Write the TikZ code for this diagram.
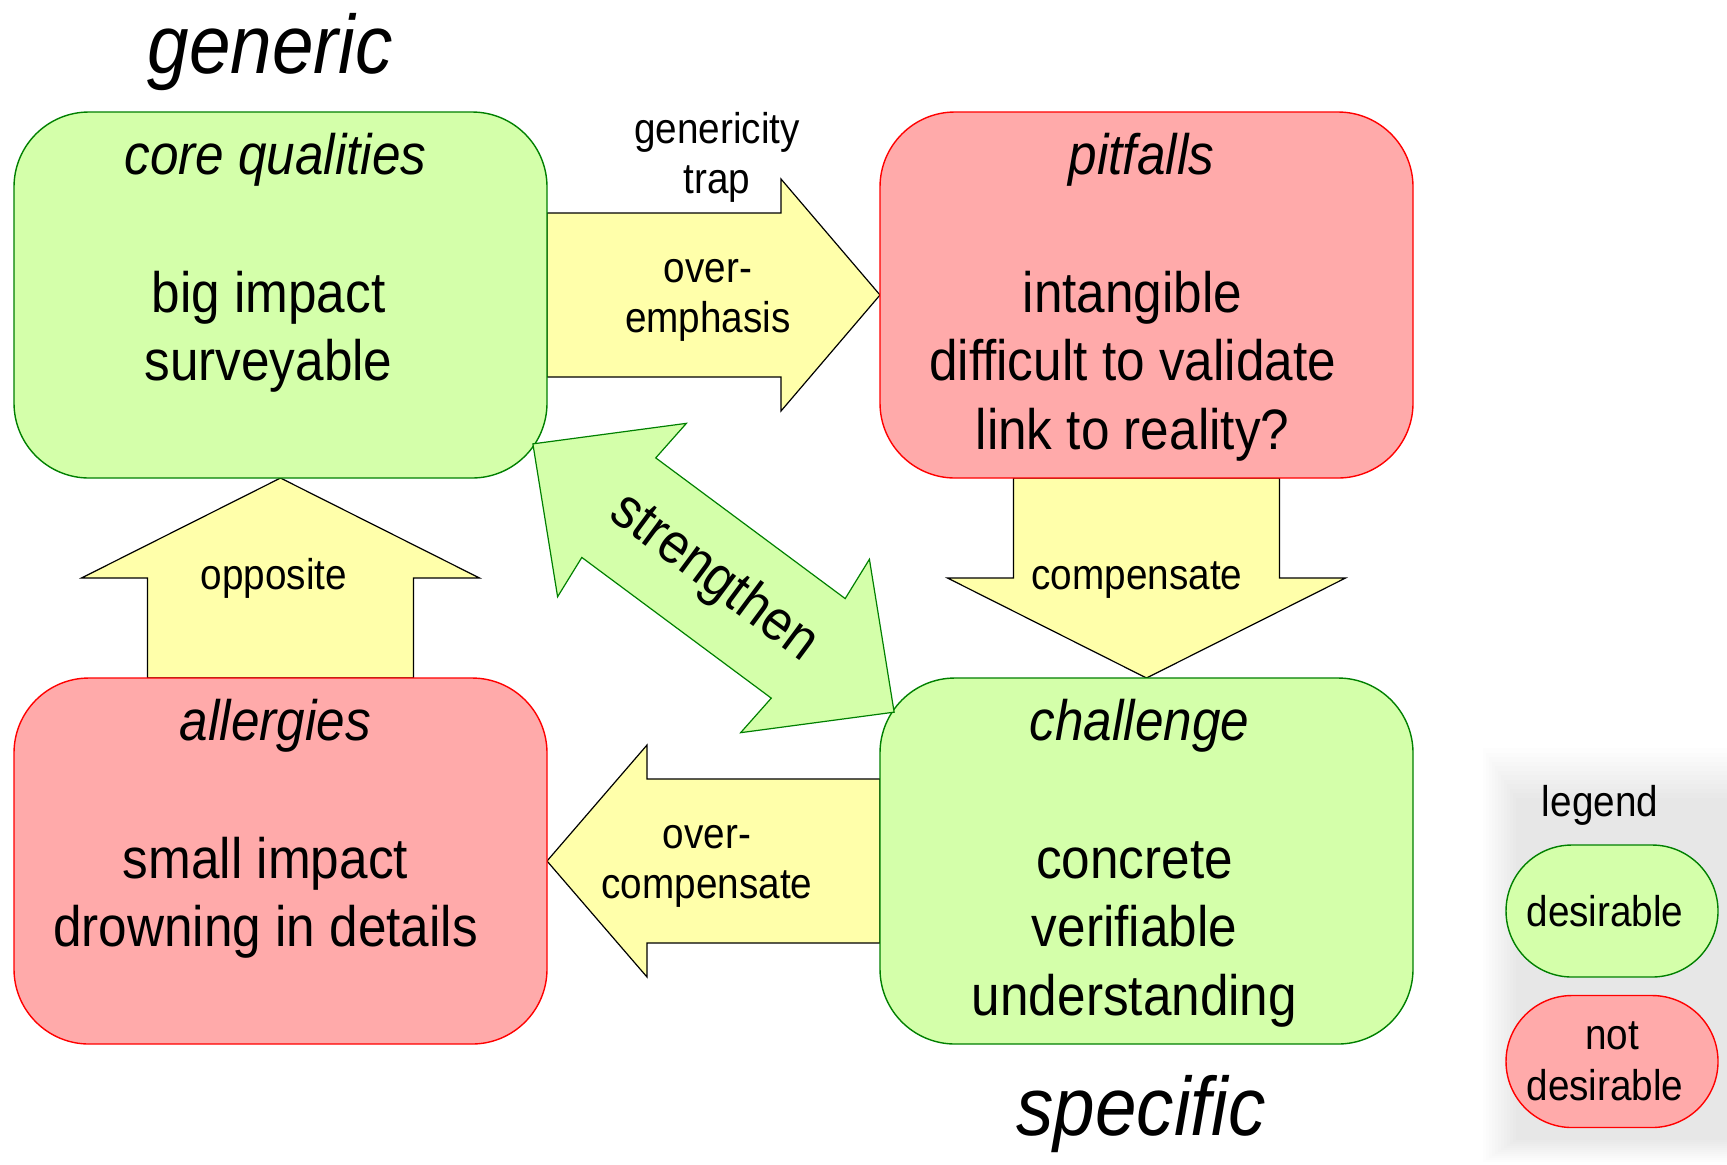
\documentclass[tikz,border=0pt]{standalone}
\usepackage{fontspec}
\setmainfont{Liberation Sans}[FakeStretch=0.9]
\usetikzlibrary{calc,backgrounds}

% text sizes (1 unit = 0.5pt)
\newcommand{\boxsize}{\fontsize{28.5}{34.25}\selectfont}
\newcommand{\tagsize}{\fontsize{21.5}{25.25}\selectfont}
\newcommand{\headsize}{\fontsize{41.5}{50}\selectfont}

\tikzset{
  goodbox/.style={draw={rgb, 255:red, 0; green, 128; blue, 0}, fill={rgb, 255:red, 212; green, 255; blue, 170},
    line width=0.7pt, rounded corners=37.5pt, minimum width=266.5pt, minimum height=183pt,
    inner sep=0pt, outer sep=0pt},
  badbox/.style={goodbox, draw=red, fill={rgb, 255:red, 255; green, 170; blue, 170}},
  goodleg/.style={goodbox, minimum width=106pt, minimum height=66pt, rounded corners=33pt,
    font=\tagsize, align=center},
  badleg/.style={goodleg, draw=red, fill={rgb, 255:red, 255; green, 170; blue, 170}},
  ttl/.style={font=\boxsize\itshape, inner sep=0pt, anchor=base},
  body/.style={font=\boxsize, align=center, inner sep=0pt, anchor=north},
  tag/.style={font=\tagsize, align=center, inner sep=0pt},
  yarrow/.style={draw=black, fill={rgb, 255:red, 255; green, 255; blue, 170}, line width=0.6pt},
  garrow/.style={draw={rgb, 255:red, 0; green, 128; blue, 0}, fill={rgb, 255:red, 212; green, 255; blue, 170}, line width=0.6pt},
}

\begin{document}
\begin{tikzpicture}[x=0.5pt,y=0.5pt,yscale=-1,xscale=1]
\useasboundingbox (0,0) rectangle (1727,1164);

%Shape: Rounded Rects
\node [goodbox] (core) at (280.5,295) {};
\node [badbox] (pit) at (1146.5,295) {};
\node [badbox] (allerg) at (280.5,861) {};
\node [goodbox] (chal) at (1146.5,861) {};

\begin{scope}[on background layer]
%Shape: legend shadow
\foreach \i in {0,...,11}
  \fill [black, opacity=0.009] (1483+3*\i,748+4.5*\i) rectangle (1727,1162-2*\i);

%Shape: Right Arrow [over-emphasis]
\draw [yarrow] ($(core.east)+(0,-82)$) -- ($(pit.west)+(-99,-82)$) -- ($(pit.west)+(-99,-116)$) -- (pit.west)
  -- ($(pit.west)+(-99,116)$) -- ($(pit.west)+(-99,82)$) -- ($(core.east)+(0,82)$) -- cycle;
%Shape: Down Arrow [compensate]
\draw [yarrow] ($(pit.south)+(-133,0)$) -- ($(chal.north)+(-133,-100)$) -- ($(chal.north)+(-199,-100)$) -- (chal.north)
  -- ($(chal.north)+(199,-100)$) -- ($(chal.north)+(133,-100)$) -- ($(pit.south)+(133,0)$) -- cycle;
%Shape: Up Arrow [opposite]
\draw [yarrow] ($(allerg.north)+(-133,0)$) -- ($(core.south)+(-133,100)$) -- ($(core.south)+(-199,100)$) -- (core.south)
  -- ($(core.south)+(199,100)$) -- ($(core.south)+(133,100)$) -- ($(allerg.north)+(133,0)$) -- cycle;
%Shape: Left Arrow [over-compensate]
\draw [yarrow] ($(chal.west)+(0,-82)$) -- ($(allerg.east)+(100,-82)$) -- ($(allerg.east)+(100,-116)$) -- (allerg.east)
  -- ($(allerg.east)+(100,116)$) -- ($(allerg.east)+(100,82)$) -- ($(chal.west)+(0,82)$) -- cycle;
\end{scope}

%Shape: Double Arrow [strengthen]
\coordinate (mid) at ($(core.south east)!0.5!(chal.north west)$);
\begin{scope}[shift={(mid)}, rotate=36.6]
\draw [garrow] (-225,0) -- (-114,-108) -- (-118,-62) -- (118,-62) -- (114,-108) -- (225,0)
  -- (114,108) -- (118,62) -- (-118,62) -- (-114,108) -- cycle;
\end{scope}
\node [font=\boxsize, rotate=-36.6, inner sep=0pt] (streng) at (mid) {strengthen};

% Text Node
\node [font=\headsize\itshape, inner sep=0pt, anchor=base] (gen) at (270,73) {generic};
% Text Node
\node [font=\headsize\itshape, inner sep=0pt, anchor=base] (spec) at (1141,1135) {specific};

% Text Node
\node [ttl] (coreT) at ($(core.north)+(-5,62)$) {core qualities};
\node [body] (coreB) at ($(core.north)+(-12,152)$) {\strut big impact\\surveyable};
% Text Node
\node [ttl] (pitT) at ($(pit.north)+(-5,62)$) {pitfalls};
\node [body] (pitB) at ($(pit.north)+(-14,152)$) {\strut intangible\\difficult to validate\\link to reality?};
% Text Node
\node [ttl] (allergT) at ($(allerg.north)+(-5,62)$) {allergies};
\node [body] (allergB) at ($(allerg.north)+(-15,152)$) {\strut small impact\\drowning in details};
% Text Node
\node [ttl] (chalT) at ($(chal.north)+(-7,62)$) {challenge};
\node [body] (chalB) at ($(chal.north)+(-12,152)$) {\strut concrete\\verifiable\\understanding};

% Text Node
\node [tag, anchor=north] (trap) at (717,107.6) {\strut genericity\\trap};
\node [tag, anchor=north] (emph) at (708,246.6) {\strut over-\\emphasis};
\node [tag, anchor=base] (comp) at (1137,589) {compensate};
\node [tag, anchor=base] (oppo) at (274,589) {opposite};
\node [tag, anchor=north] (ovcomp) at (707,812.6) {\strut over-\\compensate};

% legend
\node [tag, anchor=base] (legT) at (1600,816) {legend};
\node [goodleg] (legG) at (1612,911) {desirable\hspace*{7pt}};
\node [badleg] (legR) at (1612,1061.5) {not\\desirable\hspace*{7pt}};

\end{tikzpicture}
\end{document}
